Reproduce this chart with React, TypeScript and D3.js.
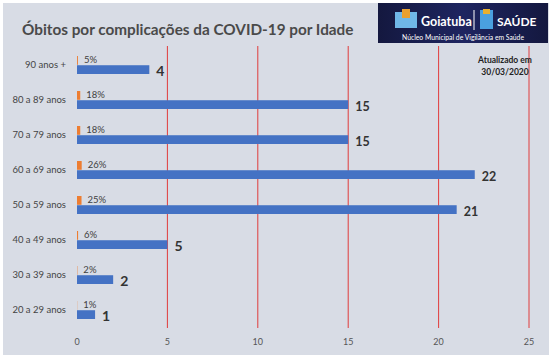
import React from "react";
import * as d3 from "d3";

const categories = ["90 anos +", "80 a 89 anos", "70 a 79 anos", "60 a 69 anos", "50 a 59 anos", "40 a 49 anos", "30 a 39 anos", "20 a 29 anos"];
const deaths = [4, 15, 15, 22, 21, 5, 2, 1];
const percents = [5, 18, 18, 26, 25, 6, 2, 1];
const xTicks = [0, 5, 10, 15, 20, 25];
const title = "Óbitos por complicações da COVID-19 por Idade";
const updated = ["Atualizado em", "30/03/2020"];

const W = 552, H = 359;
const FONT = "Lato, 'Open Sans', sans-serif";

export default function App() {
  const x = d3.scaleLinear().domain([0, 25]).range([77, 529]);
  const y = d3.scaleBand<string>().domain(categories).range([47.5, 327.5]).paddingInner(0.486).paddingOuter(0.243);
  const sub = d3.scaleBand<string>().domain(["pct", "count"]).range([0, y.bandwidth()]).paddingInner(0.05);

  return (
    <svg width={W} height={H} style={{ position: "absolute", left: 0, top: 0 }} fontFamily={FONT}>
      <defs>
        <linearGradient id="logo" x1="0" x2="1" y1="0" y2="0">
          <stop offset="0" stopColor="#14183f" />
          <stop offset="0.5" stopColor="#1e2560" />
          <stop offset="1" stopColor="#14183f" />
        </linearGradient>
      </defs>
      <rect x={0} y={0} width={W} height={H} fill="#ffffff" />
      <rect x={3} y={3} width={546} height={352} fill="#d8dce5" />
      <text x={22} y={35} fontSize={15.3} fontWeight={700} fill="#4a4a4a">{title}</text>

      {/* logo */}
      <rect x={378} y={3} width={170} height={40} fill="url(#logo)" />
      <rect x={395} y={12} width={22} height={16} fill="#6fb7e8" />
      <rect x={402} y={9} width={8} height={9} fill="#e8a030" />
      <text x={421} y={26} fontSize={12.5} fontWeight={700} fill="#ffffff">Goiatuba</text>
      <line x1={474} x2={474} y1={10} y2={30} stroke="#ffffff" strokeWidth={1} />
      <rect x={480} y={10} width={13} height={19} fill="#4aa0e0" />
      <rect x={483} y={9} width={7} height={5} fill="#e8b030" />
      <text x={497} y={26} fontSize={12} fontWeight={700} fill="#ffffff">SAÚDE</text>
      <text x={463} y={40} fontSize={6.8} fill="#ffffff" textAnchor="middle">Núcleo Municipal de Vigilância em Saúde</text>

      {/* grid */}
      {xTicks.filter(t => t > 0).map(t => (
        <line key={t} x1={x(t)} x2={x(t)} y1={46} y2={328} stroke="#e03c3c" strokeWidth={1} />
      ))}
      {xTicks.map(t => (
        <text key={"t" + t} x={x(t)} y={345} fontSize={9} fill="#555" textAnchor="middle">{t}</text>
      ))}

      {updated.map((s, i) => (
        <text key={s} x={505} y={63 + i * 12} fontSize={8.5} fontWeight={700} fill="#222" textAnchor="middle">{s}</text>
      ))}

      {categories.map((c, i) => {
        const y0 = y(c)!;
        const yp = y0 + sub("pct")!;
        const yc = y0 + sub("count")!;
        const bh = sub.bandwidth();
        return (
          <g key={c}>
            <text x={66} y={yc + 3} fontSize={9.5} fill="#444" textAnchor="end">{c}</text>
            <rect x={x(0)} y={yp} width={x(percents[i] / 100) - x(0)} height={bh} fill="#ed7d31" />
            <text x={x(percents[i] / 100) + 6} y={yp + bh / 2 + 3} fontSize={9.5} fill="#404040">{percents[i]}%</text>
            <rect x={x(0)} y={yc} width={x(deaths[i]) - x(0)} height={bh} fill="#4472c4" />
            <text x={x(deaths[i]) + 7} y={yc + bh / 2 + 6} fontSize={i === 0 || i >= 5 ? 14 : 12.5} fontWeight={700} fill="#333">{deaths[i]}</text>
          </g>
        );
      })}
    </svg>
  );
}
